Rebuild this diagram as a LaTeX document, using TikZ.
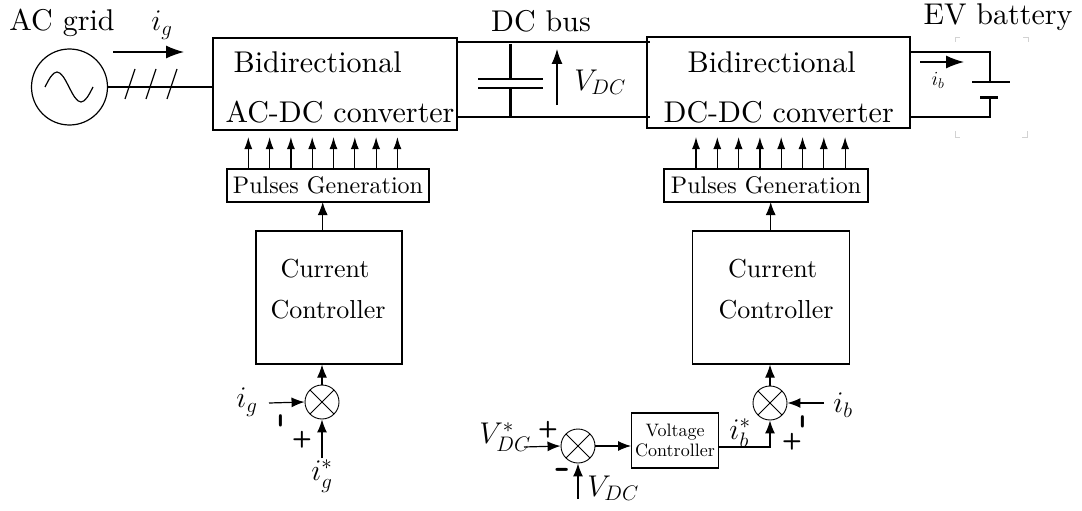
\RequirePackage{fix-cm}
\documentclass[tikz,border=0pt]{standalone}
\usepackage{fontspec}
\setmainfont{lmroman10-regular.otf}[BoldFont=lmroman10-bold.otf,ItalicFont=lmroman10-italic.otf]
\setsansfont{lmsans10-regular.otf}[BoldFont=lmsans10-bold.otf]
\usetikzlibrary{arrows.meta}
\newcommand{\fz}[1]{\fontsize{#1}{#1}\selectfont}
\begin{document}
\begin{tikzpicture}[x=1pt,y=-1pt,line width=1.2pt,
  arr/.style={-{Latex[length=13pt,width=10pt]}},
  barr/.style={-{Latex[length=18pt,width=13pt]}},
  varr/.style={-{Latex[length=15pt,width=11pt]}},
  sarr/.style={-{Latex[length=12pt,width=8pt]}},
  box/.style={draw,rectangle,inner sep=0pt},
  bigtxt/.style={inner sep=0pt,font=\fz{30}},
  lbl/.style={inner sep=0pt,font=\fz{30}},
  sumj/.style={draw,circle,line width=0.9pt,minimum size=34pt,inner sep=0pt,
    path picture={\draw[line width=0.9pt] (path picture bounding box.north west)--(path picture bounding box.south east)
      (path picture bounding box.north east)--(path picture bounding box.south west);}},
  sgn/.style={inner sep=0pt,font=\sffamily\bfseries\fz{23}},
  msgn/.style={inner sep=0pt,font=\sffamily\bfseries\fz{42}},
  thick3/.style={line width=3pt},
]
\useasboundingbox (0,0) rectangle (1082,511);

% AC source
\node[draw,circle,minimum size=76pt,inner sep=0pt] (src) at (69.5,87) {};
\draw (45,87) sin (57,72) cos (69,87) sin (81,102) cos (93,87);
\node[bigtxt,anchor=base] (acgrid) at (62,31) {AC grid};

% AC-DC converter
\node[box,minimum width=244pt,minimum height=92pt] (acdc) at (335,84) {};
\node[bigtxt,anchor=base west] (t1) at (233,73) {Bidirectional};
\node[bigtxt,anchor=base west] (t2) at (225,122) {AC-DC converter};

\draw (src.east) -- (acdc.west |- src.east);
\draw (125,99) -- (135,69) (146,99) -- (156,69) (167,99) -- (177,69);
\coordinate (iga) at (113,52);
\coordinate (igb) at (184,52);
\draw[barr] (iga) -- (igb);
\node[lbl] (iglbl) at (162,25) {$i_g$};

% DC-DC converter
\node[box,minimum width=263pt,minimum height=91pt] (dcdc) at (778.5,82.5) {};
\node[bigtxt,anchor=base west] (t3) at (687,73) {Bidirectional};
\node[bigtxt,anchor=base west] (t4) at (663,122) {DC-DC converter};

% DC bus
\coordinate (bt1) at (457,42);
\coordinate (bt2) at (650,42);
\coordinate (bb1) at (457,117);
\coordinate (bb2) at (650,117);
\draw (bt1) -- (bt2);
\draw (bb1) -- (bb2);
\node[bigtxt,anchor=base] (dcbus) at (541,32) {DC bus};
\draw[thick3] (510,44) -- (510,79);
\draw[thick3] (510,88) -- (510,118);
\draw[line width=2pt] (478,79) -- (543,79);
\draw[line width=2pt] (478,88) -- (543,88);
\coordinate (va) at (557,105);
\coordinate (vb) at (557,49);
\draw[varr] (va) -- (vb);
\node[lbl] (vdc) at (600,82) {$V_{DC}$};

% battery
\node[bigtxt,anchor=base] (evb) at (998,25) {EV battery};
\draw (dcdc.east |- 0,52) -- (990,52) -- (990,82);
\draw[line width=2pt] (972,82) -- (1010,82);
\draw[line width=3pt] (980,97) -- (998,97);
\draw (990,97) -- (990,117) -- (dcdc.east |- 0,117);
\draw[gray!35,line width=0.8pt] (960,37) -- (955,37) -- (955,42)
  (1023,37) -- (1028,37) -- (1028,42)
  (955,131) -- (955,137) -- (960,137)
  (1027,131) -- (1027,137) -- (1022,137);
\coordinate (iba) at (920,62);
\coordinate (ibb) at (964,62);
\draw[barr] (iba) -- (ibb);
\node[inner sep=0pt,font=\fz{20}] (iblbl) at (938,80) {$i_b$};

% Pulses generation
\node[box,minimum width=202pt,minimum height=33pt,font=\fz{24}] (pgL) at (328,185.5) {Pulses Generation};
\node[box,minimum width=204pt,minimum height=33pt,font=\fz{24}] (pgR) at (766,185.5) {Pulses Generation};
\foreach \i in {0,...,7}{
  \draw[sarr] (248.3+21.3*\i,169) -- (248.3+21.3*\i,137);
  \draw[sarr] (696+21.3*\i,169) -- (696+21.3*\i,137);
}

% Current controllers
\node[box,minimum width=146pt,minimum height=133pt] (ccL) at (329,297.5) {};
\node[inner sep=0pt,font=\fz{26},anchor=base] at (325,277) {Current};
\node[inner sep=0pt,font=\fz{26},anchor=base] at (328,318) {Controller};
\node[box,minimum width=157pt,minimum height=133pt] (ccR) at (771.3,297.5) {};
\node[inner sep=0pt,font=\fz{26},anchor=base] at (772.7,277) {Current};
\node[inner sep=0pt,font=\fz{26},anchor=base] at (776,318) {Controller};
\draw[arr] (322.7,231) -- (322.7,202);
\draw[arr] (770.7,231) -- (770.7,202);

% left summing junction
\node[sumj] (sL) at (322,402) {};
\draw[arr] (sL.north) -- (sL.north |- ccL.south);
\coordinate (igin) at (269,403);
\draw[arr] (igin) -- (sL.west);
\node[lbl] at (247,402) {$i_g$};
\coordinate (igsin) at (322,458);
\draw[arr] (igsin) -- (sL.south);
\node[lbl] at (322,476) {$i_g^*$};
\node[sgn] at (302,440) {+};
\node[msgn,rotate=90] at (285,420) {-};

% bottom chain
\node[sumj] (sB) at (578,446) {};
\coordinate (vdcsin) at (524,447);
\draw[arr] (vdcsin) -- (sB.west);
\node[lbl] at (505,437) {$V_{DC}^*$};
\node[sgn] at (548,430) {+};
\node[msgn] at (563,474) {-};
\coordinate (vdcin) at (578,499);
\draw[arr] (vdcin) -- (sB.south);
\node[lbl] at (613,488) {$V_{DC}$};
\node[box,minimum width=86.6pt,minimum height=55pt] (vc) at (675,440.5) {};
\node[inner sep=0pt,font=\fz{18},anchor=base] at (675,436) {Voltage};
\node[inner sep=0pt,font=\fz{18},anchor=base] at (675,456) {Controller};
\draw[arr] (sB.east) -- (vc.west |- sB.east);

% right summing junction
\node[sumj] (sR) at (770,403) {};
\draw[arr] (sR.north) -- (sR.north |- ccR.south);
\draw[arr] (vc.east |- 0,447) -- (770,447) -- (sR.south);
\node[lbl] at (740,433) {$i_b^*$};
\node[sgn] at (792,442) {+};
\coordinate (ibin) at (824,403);
\draw[arr] (ibin) -- (sR.east);
\node[lbl] at (843,405) {$i_b$};
\node[msgn,rotate=90] at (807,421) {-};
\end{tikzpicture}
\end{document}
